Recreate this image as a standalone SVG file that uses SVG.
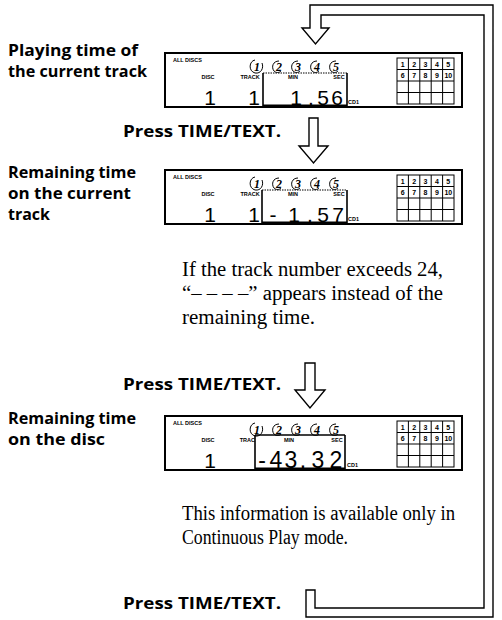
<svg xmlns="http://www.w3.org/2000/svg" xmlns:xlink="http://www.w3.org/1999/xlink" width="502" height="620" viewBox="0 0 502 620">
<style>
.lbl{font-family:"Open Sans","Noto Sans",sans-serif;font-weight:bold;font-size:15.4px;fill:#000}
.note{font-family:"Liberation Serif","DejaVu Serif",serif;font-size:20px;fill:#000}
.tiny{font-family:"Liberation Sans",sans-serif;font-weight:bold;font-size:5.5px;fill:#000}
.gn{font-family:"Liberation Sans",sans-serif;font-weight:bold;font-size:7px;fill:#000;text-anchor:middle}
.dn{font-family:"Liberation Serif",serif;font-style:italic;font-weight:bold;font-size:12px;fill:#000;text-anchor:middle}
.dig{font-family:"Liberation Sans",sans-serif;font-size:21px;fill:#000;text-anchor:middle}
.frame{fill:#fff;stroke:#000;stroke-width:2}
.thin{fill:none;stroke:#000;stroke-width:1}
.arrow{fill:#fff;stroke:#000;stroke-width:1.4;stroke-linejoin:miter}
</style>
<defs>
<path id="curl" class="thin" d="M2,-6 C-4,-6 -6,0 -3,4 C-1,6 2,6 4,4"/>
<g id="panel">
<rect class="frame" x="0" y="0" width="297" height="54"/>
<text class="tiny" x="8" y="8.5">ALL  DISCS</text>
<path class="thin" d="M90,7 C84,8 83,18 90,20 C96,21 99,15 97,10"/>
<text class="dn" x="92" y="18">1</text>
<use xlink:href="#curl" x="112" y="14"/><text class="dn" x="114" y="18">2</text>
<use xlink:href="#curl" x="131" y="14"/><text class="dn" x="133" y="18">3</text>
<use xlink:href="#curl" x="150" y="14"/><text class="dn" x="152" y="18">4</text>
<use xlink:href="#curl" x="169" y="14"/><text class="dn" x="171" y="18">5</text>
<text class="tiny" x="43" y="26" text-anchor="middle">DISC</text>
<g class="thin">
<rect x="232" y="5" width="57" height="46"/>
<path d="M243.4,5V51M254.8,5V51M266.2,5V51M277.6,5V51M232,16.5H289M232,28H289M232,39.5H289"/>
</g>
<text class="gn" x="237.7 249.1 260.5 271.9 283.3" y="13.5">12345</text>
<text class="gn" x="237.7 249.1 260.5 271.9" y="25">6789</text>
<text class="gn" x="283.3" y="25">10</text>
</g>
</defs>

<g id="connectors">
<path id="loop" class="arrow" d="M306,590 V617 H493 V5 H310 V28 H302 L315.5,44 L329,28 H321 V15 H484 V608 H315 V590 Z"/>
<path id="arrow2" class="arrow" d="M309,118 H318 V146 H328 L313.5,163 L299,146 H309 Z"/>
<path id="arrow3" class="arrow" d="M305,363 H315 V390 H325 L310,408 L295,390 H305 Z"/>
</g>

<g id="state1">
<text class="lbl" x="8" y="56" textLength="130" lengthAdjust="spacingAndGlyphs">Playing time of</text>
<text class="lbl" x="8" y="77" textLength="139" lengthAdjust="spacingAndGlyphs">the current track</text>
<g transform="translate(165,53)">
<use xlink:href="#panel"/>
<text class="tiny" x="85" y="26" text-anchor="middle">TRACK</text>
<path fill="none" stroke="#000" stroke-width="1.6" d="M98,54V20M182,54V20"/>
<path fill="none" stroke="#000" stroke-width="1" stroke-dasharray="1.5 1" d="M98,20H182"/>
<path fill="none" stroke="#000" stroke-width="3" d="M98,53H182"/>
<text class="tiny" x="128" y="26" text-anchor="middle">MIN</text>
<text class="tiny" x="174" y="26" text-anchor="middle">SEC</text>
<text class="tiny" x="183" y="51">CD1</text>
</g>
<text class="dig" x="210" y="105">1</text>
<text class="dig" x="254" y="105">1</text>
<text class="dig" x="296 311 323 337" y="105">1.56</text>
</g>

<text class="lbl" x="123" y="137" textLength="158" lengthAdjust="spacingAndGlyphs">Press TIME/TEXT.</text>

<g id="state2">
<text class="lbl" x="8" y="178" textLength="128" lengthAdjust="spacingAndGlyphs">Remaining time</text>
<text class="lbl" x="8" y="199" textLength="123" lengthAdjust="spacingAndGlyphs">on the current</text>
<text class="lbl" x="8" y="220" textLength="42" lengthAdjust="spacingAndGlyphs">track</text>
<g transform="translate(165,170)">
<use xlink:href="#panel"/>
<text class="tiny" x="85" y="26" text-anchor="middle">TRACK</text>
<path fill="none" stroke="#000" stroke-width="1.6" d="M97,54V20M182,54V20"/>
<path fill="none" stroke="#000" stroke-width="1" stroke-dasharray="1.5 1" d="M97,20H182"/>
<path fill="none" stroke="#000" stroke-width="3" d="M97,53H182"/>
<text class="tiny" x="128" y="26" text-anchor="middle">MIN</text>
<text class="tiny" x="174" y="26" text-anchor="middle">SEC</text>
<text class="tiny" x="183" y="51">CD1</text>
</g>
<text class="dig" x="210" y="222">1</text>
<text class="dig" x="254" y="222">1</text>
<text class="dig" x="273 294 310 323 338" y="222">-1.57</text>
</g>

<g id="note1">
<text class="note" x="182" y="276" textLength="261" lengthAdjust="spacingAndGlyphs">If the track number exceeds 24,</text>
<text class="note" x="182" y="300" textLength="261" lengthAdjust="spacingAndGlyphs">“– – – –” appears instead of the</text>
<text class="note" x="182" y="324" textLength="133" lengthAdjust="spacingAndGlyphs">remaining time.</text>
</g>

<text class="lbl" x="123" y="390" textLength="158" lengthAdjust="spacingAndGlyphs">Press TIME/TEXT.</text>

<g id="state3">
<text class="lbl" x="8" y="424" textLength="128" lengthAdjust="spacingAndGlyphs">Remaining time</text>
<text class="lbl" x="8" y="445" textLength="97" lengthAdjust="spacingAndGlyphs">on the disc</text>
<g transform="translate(165,416)">
<use xlink:href="#panel"/>
<text class="tiny" x="90" y="26" text-anchor="end">TRAC</text>
<path fill="none" stroke="#000" stroke-width="1.6" d="M90,54V19M180,54V19"/>
<path fill="none" stroke="#000" stroke-width="1.6" d="M90,19H180"/>
<path fill="none" stroke="#000" stroke-width="3" d="M90,53H180"/>
<text class="tiny" x="124" y="26" text-anchor="middle">MIN</text>
<text class="tiny" x="172" y="26" text-anchor="middle">SEC</text>
<text class="tiny" x="182" y="51">CD1</text>
</g>
<text class="dig" x="210" y="468">1</text>
<text class="dig" style="font-size:23px" x="262 276 291 303 318 336" y="468">-43.32</text>
</g>

<g id="note2">
<text class="note" x="182" y="520" textLength="273" lengthAdjust="spacingAndGlyphs">This information is available only in</text>
<text class="note" x="182" y="544" textLength="166" lengthAdjust="spacingAndGlyphs">Continuous Play mode.</text>
</g>

<text class="lbl" x="123" y="609" textLength="158" lengthAdjust="spacingAndGlyphs">Press TIME/TEXT.</text>
</svg>
